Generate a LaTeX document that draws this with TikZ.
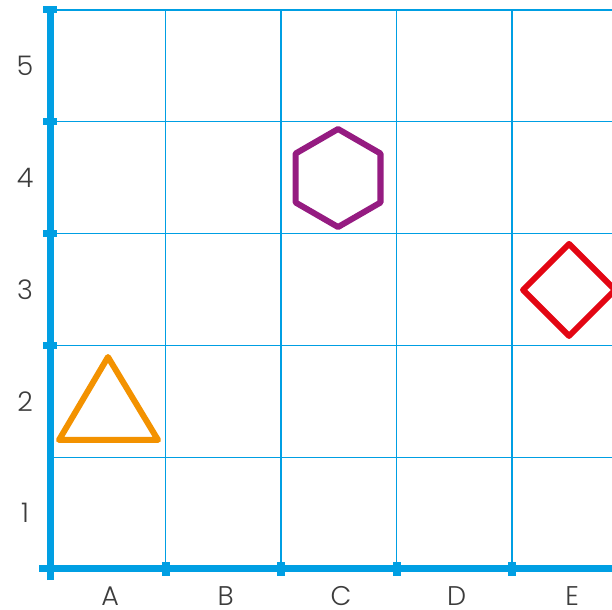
\documentclass[tikz,border=0pt]{standalone}
\usepackage{fontspec}
\setmainfont{Poppins Light}
\usepackage{tikz}
\usetikzlibrary{positioning, calc}
\definecolor{cBlue}{RGB}{0,159,227}
\definecolor{cOrange}{RGB}{243,146,0}
\definecolor{cPurple}{RGB}{149,27,129}
\definecolor{cRed}{RGB}{227,6,19}
\definecolor{cText}{RGB}{60,60,60}
\tikzset{
	gridline/.style ={draw=cBlue, line width=1.1pt},
	axisline/.style ={draw=cBlue, line width=7pt},
	xtick/.style    ={fill=cBlue, minimum width=8pt, minimum height=14pt, inner sep=0pt},
	ytick/.style    ={fill=cBlue, minimum width=14pt, minimum height=7pt, inner sep=0pt},
	lab/.style      ={text=cText, font=\fontsize{27}{29}\selectfont, inner sep=0pt},
	% shapes on the board
	figure/.style   ={line width=6pt, line join=round, line cap=round},
}

\begin{document}
\begin{tikzpicture}[x=115.5pt, y=111.8pt]
	\useasboundingbox (-0.4329,-0.3667) rectangle (4.8658,5.0894);
	% grid
	\draw[gridline] (0,1) -- (4.87,1) (0,2) -- (4.87,2) (0,3) -- (4.87,3) (0,4) -- (4.87,4) (0,5) -- (4.87,5);
	\draw[gridline] (1,0) -- (1,5) (2,0) -- (2,5) (3,0) -- (3,5) (4,0) -- (4,5);
	% axes
	\draw[axisline] (0,-0.1) -- (0,5);
	\draw[axisline] (-0.095,0) -- (4.87,0);
	\node[ytick] (y5) at (0,5) {};
	\node[ytick] (y4) at (0,4) {};
	\node[ytick] (y3) at (0,3) {};
	\node[ytick] (y2) at (0,2) {};
	\node[xtick] (x1) at (1,0) {};
	\node[xtick] (x2) at (2,0) {};
	\node[xtick] (x3) at (3,0) {};
	\node[xtick] (x4) at (4,0) {};
	% labels
	\node[lab] (r1) at (-0.216,0.5) {1};
	\node[lab] (r2) at (-0.216,1.5) {2};
	\node[lab] (r3) at (-0.216,2.5) {3};
	\node[lab] (r4) at (-0.216,3.5) {4};
	\node[lab] (r5) at (-0.216,4.5) {5};
	\node[lab] (cA) at (0.52,-0.24) {A};
	\node[lab] (cB) at (1.52,-0.24) {B};
	\node[lab] (cC) at (2.52,-0.24) {C};
	\node[lab] (cD) at (3.52,-0.24) {D};
	\node[lab] (cE) at (4.52,-0.24) {E};
	% figures
	\draw[figure, cOrange] (0.502,1.896) -- (0.935,1.154) -- (0.078,1.154) -- cycle;
	\draw[figure, cPurple] ($(2.494,3.497)+(90:49pt)$) -- ($(2.494,3.497)+(150:49pt)$) -- ($(2.494,3.497)+(210:49pt)$) -- ($(2.494,3.497)+(270:49pt)$) -- ($(2.494,3.497)+(330:49pt)$) -- ($(2.494,3.497)+(30:49pt)$) -- cycle;
	\draw[figure, cRed] ($(4.494,2.496)+(0,46pt)$) -- ($(4.494,2.496)+(-46pt,0)$) -- ($(4.494,2.496)+(0,-46pt)$) -- ($(4.494,2.496)+(46pt,0)$) -- cycle;
\end{tikzpicture}
\end{document}
